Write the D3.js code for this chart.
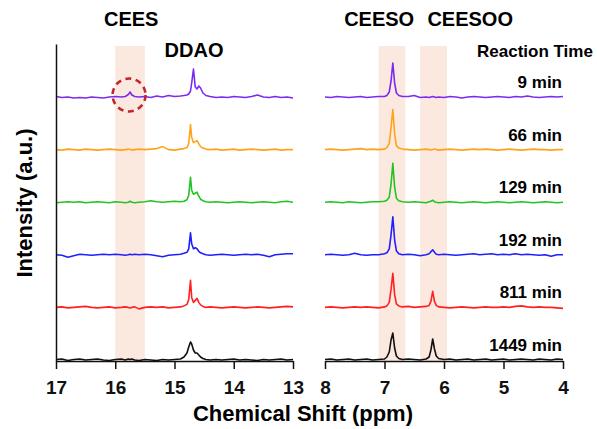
<!DOCTYPE html>
<html>
<head>
<meta charset="utf-8">
<script src="https://cdn.jsdelivr.net/npm/d3@7"></script>
<style>
  body { margin: 0; background: #fff; }
  svg { display: block; }
  .axis path, .axis line { stroke: #111; stroke-width: 1.5; }
  .axis text { font-family: "Liberation Sans", Arial, sans-serif; font-weight: bold; font-size: 19px; fill: #111; }
</style>
</head>
<body>
<svg id="main"></svg>
<script>
// reaction times and trace colours (top to bottom)
var times = ["9 min", "66 min", "129 min", "192 min", "811 min", "1449 min"];
var colors = ["#7b2cf0", "#ffa31a", "#22c322", "#1f1fff", "#ff2020", "#111111"];

// ppm sample points (left panel 17-13, right panel 8-4)
var leftPpm = [17.0,16.9,16.8,16.7,16.6,16.5,16.4,16.3,16.2,16.1,16.0,15.9,
  15.83,15.78,15.75,15.72,15.67,15.6,
  15.5,15.4,15.3,15.2,15.1,15.0,14.9,
  14.84,14.79,14.76,14.73,14.71,14.68,14.65,14.62,14.59,14.56,14.52,14.47,
  14.4,14.3,14.2,14.1,14.0,13.9,13.8,13.7,13.6,13.5,13.4,13.3,13.2,13.1,13.0];
var rightPpm = [8.0,7.9,7.8,7.7,7.6,7.5,7.4,7.3,7.2,7.1,7.0,
  6.96,6.92,6.89,6.86,6.83,6.8,6.76,6.7,
  6.6,6.5,6.4,6.3,
  6.25,6.22,6.19,6.16,6.13,6.09,
  6.0,5.9,5.8,5.7,5.6,5.5,5.4,5.3,5.2,5.1,5.0,4.9,4.8,4.7,4.6,4.5,4.4,4.3,4.2,4.1,4.0];

// intensities (a.u.)
var left9min = [0.5,-0.5,0,-1,-0.5,-1,0,-0.5,-1,0,0.5,0,
  0.5,2.5,5,2,0.5,0,
  0.5,-0.5,1,0,1.5,0.5,1,
  1.5,2,3,6,14,28,10,8,11,9,4,1.5,
  0.5,-0.5,0,-0.5,0.5,0,-0.5,0.5,2,0,-0.5,0.5,-0.5,0,-1];
var left66min = [0,-0.5,0.5,0,-0.5,0.5,0,-0.5,0,0.5,0,-0.5,
  0,0.5,0,-0.5,0,0.5,
  0,0.5,1,3,0,-0.5,0.5,
  1,2,6,25,12,7,8,9,6,3,1.5,0.5,
  0,0.5,-0.5,0,0.5,-0.5,0,0.5,0,-0.5,0,0.5,-0.5,0,0];
var left129min = [-0.5,0,0.5,0,0.5,-0.5,0,0.5,0,-0.5,0.5,0,
  -0.5,0,1,0,-0.5,0,
  0.5,1.5,0.5,0,0.5,1,0.5,
  1,2.5,7,25,12,8,9,10,6,3,1.5,0.5,
  0,0.5,0,-0.5,0,0.5,0,-0.5,0,0.5,0,-0.5,0.5,1,0];
var left192min = [0,-0.5,-2.5,-1,0.5,0,-0.5,0,0.5,0,0.5,0,
  -0.5,0,0.5,0,0.5,0,
  0.5,0,-1,-2,-0.5,0,0.5,
  1.5,2.5,6,22,11,6,7,6,3.5,2,1,0,
  -0.5,0,0.5,0,-0.5,0,0.5,0,0.5,-0.5,-2,0,0.5,1,1];
var left811min = [0,0.5,-0.5,0,0.5,1,0,-0.5,0,0.5,-0.5,0,
  0.5,0,-0.5,0,0.5,-1.5,
  0,0.5,0,0.5,-0.5,0,0.5,
  1.5,3,8,27,10,5,7,9,5,2.5,1,0,
  0.5,0,-0.5,0,0.5,0,-0.5,0,0.5,0,-0.5,0,0.5,1,0.5];
var left1449min = [0.5,1,-0.5,0.5,1,0,0.5,1,0,-0.5,0.5,1,
  0,1,0.5,1,0,-0.5,
  0.5,0,-0.5,0.5,0,0.5,1,
  3,7,13,18,16,10,7,7,5,3,1.5,0.5,
  0,0.5,0,0.5,1,0,0.5,0,-0.5,0.5,0,0.5,1,0,0.5];

var right9min = [0,-0.5,0.5,0,-0.5,0,0.5,-0.5,0,0.5,0.5,
  1.5,5,16,34,14,4,1.5,0.5,
  0.5,1.5,-0.5,0,
  -0.5,0,0.5,0,-0.5,0,
  -0.5,0.5,0,-1,0,0.5,0,-0.5,0,0.5,0,-0.5,0.5,0,1,0,-0.5,0,0.5,0,0.5];
var right66min = [0,0.5,0,-0.5,0,0.5,1,0,0.5,0,0.5,
  2,6,22,40,16,4,1.5,0.5,
  0,-0.5,0,0.5,
  0,-0.5,0,0.5,0,-0.5,
  0,0.5,0,-0.5,0,0.5,0,0.5,0,-0.5,0,0.5,0,-0.5,0,0.5,0,0,-0.5,0,0];
var right129min = [0,0.5,0,-0.5,0.5,0,-0.5,0,0.5,0.5,1,
  2,5,18,39,15,4,1.5,0.5,
  0,0.5,0,-0.5,
  0.5,1,2,0.5,0,-0.5,
  0,0.5,0,-0.5,0,0.5,0,-0.5,0,0.5,0,-0.5,0,0.5,0,-0.5,0,0.5,0,-0.5,0];
var right192min = [0,0.5,0,-0.5,0,1.5,0,-0.5,0,0,1,
  2,6,20,38,15,4,1,0,
  0.5,0,-1,0,
  1,3,5,2.5,0.5,0,
  0.5,0,-0.5,0,0.5,1,0,0.5,1,0,0.5,0,1,0,0.5,0,-0.5,0,-1.5,0,0];
var right811min = [0,0.5,0,-0.5,0,0.5,0,0.5,0,-0.5,0.5,
  1.5,5,18,34,13,3.5,1.5,0.5,
  1,0,0.5,1,
  2,6,16,6,2,0.5,
  0,-0.5,0,0.5,0,-0.5,0,0.5,0,0,0.5,0,1,1.5,0.5,0,0.5,0,0,-0.5,-1];
var right1449min = [0.5,1,0,0.5,1,0,0.5,1,0,0.5,1,
  3,8,20,27,12,4,1.5,0.5,
  1,0.5,0,1,
  3,10,21,11,4,1.5,
  0.5,1,0,0.5,1,0,0.5,1,0,0.5,1,0,0.5,1,0.5,0,1,0.5,0,1,0.5];

var leftSeries = [left9min, left66min, left129min, left192min, left811min, left1449min];
var rightSeries = [right9min, right66min, right129min, right192min, right811min, right1449min];

// shaded regions (ppm) and peak labels
var leftBands = [[16.0, 15.5]];
var rightBands = [[7.1, 6.65], [6.4, 5.95]];
var leftLabels = [{text: "CEES", ppm: 15.73, row: 0}, {text: "DDAO", ppm: 14.67, row: 1}];
var rightLabels = [{text: "CEESO", ppm: 7.09, row: 0}, {text: "CEESOO", ppm: 5.56, row: 0}];
var leftTicks = [17, 16, 15, 14, 13];
var rightTicks = [8, 7, 6, 5, 4];
var circledPeak = 15.75; // CEES peak in the 9 min trace

var w = 597;
var h = 429;
var axisY = 361;
var axisTop = 44;
var bandTop = 46;
var rowStep = 52.6;

var svg = d3.select("#main")
  .attr("width", w)
  .attr("height", h);

var xLeft = d3.scaleLinear().domain([17, 13]).range([56, 293]);
var xRight = d3.scaleLinear().domain([8, 4]).range([325, 563]);
var yScale = d3.scaleLinear().domain([-1, 316]).range([axisY, axisTop]);

function offset(i) {
  return (times.length - 1 - i) * rowStep;
}

// shaded bands
function drawBands(bands, x) {
  svg.selectAll(null)
    .data(bands)
    .enter()
    .append("rect")
    .attr("x", function(d) { return x(d[0]); })
    .attr("width", function(d) { return x(d[1]) - x(d[0]); })
    .attr("y", bandTop)
    .attr("height", axisY - bandTop)
    .attr("fill", "#fbe9e0");
}
drawBands(leftBands, xLeft);
drawBands(rightBands, xRight);

// spectra
function drawTraces(series, ppm, x) {
  series.forEach(function(vals, i) {
    var line = d3.line()
      .x(function(d, j) { return x(ppm[j]); })
      .y(function(d) { return yScale(d + offset(i)); });
    svg.append("path")
      .datum(vals)
      .attr("d", line)
      .attr("fill", "none")
      .attr("stroke", colors[i])
      .attr("stroke-width", 1.6)
      .attr("stroke-linejoin", "round");
  });
}
drawTraces(leftSeries, leftPpm, xLeft);
drawTraces(rightSeries, rightPpm, xRight);

// axes
var xAxisLeft = d3.axisBottom(xLeft).tickValues(leftTicks).tickFormat(d3.format("d"))
  .tickSize(8).tickSizeOuter(0).tickPadding(12);
var xAxisRight = d3.axisBottom(xRight).tickValues(rightTicks).tickFormat(d3.format("d"))
  .tickSize(8).tickSizeOuter(0).tickPadding(12);

svg.append("g")
  .attr("class", "axis")
  .attr("transform", "translate(0," + axisY + ")")
  .call(xAxisLeft);

svg.append("g")
  .attr("class", "axis")
  .attr("transform", "translate(0," + axisY + ")")
  .call(xAxisRight);

svg.append("g")
  .attr("class", "axis")
  .attr("transform", "translate(" + xLeft(17) + ",0)")
  .call(d3.axisLeft(yScale).tickValues([]).tickSizeOuter(0));

// dashed circle around the CEES peak
svg.append("circle")
  .attr("cx", xLeft(circledPeak) - 1)
  .attr("cy", yScale(offset(0)) - 2)
  .attr("r", 16.5)
  .attr("fill", "none")
  .attr("stroke", "#c0262b")
  .attr("stroke-width", 2.6)
  .attr("stroke-dasharray", "6,4.5");

// peak labels
function drawLabels(labels, x) {
  svg.selectAll(null)
    .data(labels)
    .enter()
    .append("text")
    .attr("x", function(d) { return x(d.ppm); })
    .attr("y", function(d) { return d.row ? 56.5 : 26; })
    .attr("text-anchor", "middle")
    .style("font-family", "'Liberation Sans', Arial, sans-serif")
    .style("font-weight", "bold")
    .style("font-size", "20px")
    .text(function(d) { return d.text; });
}
drawLabels(leftLabels, xLeft);
drawLabels(rightLabels, xRight);

// reaction time labels
svg.append("text")
  .attr("x", 477)
  .attr("y", 56.5)
  .style("font-family", "'Liberation Sans', Arial, sans-serif")
  .style("font-weight", "bold")
  .style("font-size", "17px")
  .text("Reaction Time");

svg.selectAll(null)
  .data(times)
  .enter()
  .append("text")
  .attr("x", 562)
  .attr("y", function(d, i) { return yScale(offset(i)) - 9; })
  .attr("text-anchor", "end")
  .style("font-family", "'Liberation Sans', Arial, sans-serif")
  .style("font-weight", "bold")
  .style("font-size", "17px")
  .text(function(d) { return d; });

// axis titles
svg.append("text")
  .attr("x", 303)
  .attr("y", 421)
  .attr("text-anchor", "middle")
  .style("font-family", "'Liberation Sans', Arial, sans-serif")
  .style("font-weight", "bold")
  .style("font-size", "22px")
  .text("Chemical Shift (ppm)");

svg.append("text")
  .attr("transform", "translate(32,203) rotate(-90)")
  .attr("text-anchor", "middle")
  .style("font-family", "'Liberation Sans', Arial, sans-serif")
  .style("font-weight", "bold")
  .style("font-size", "22px")
  .text("Intensity (a.u.)");
</script>
</body>
</html>
